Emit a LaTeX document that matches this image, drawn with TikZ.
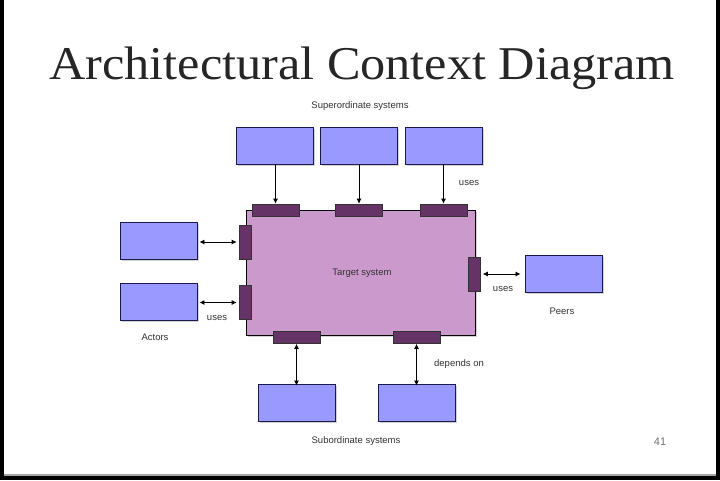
\documentclass[tikz,border=0pt]{standalone}
\usepackage{fontspec}
\setmainfont{Liberation Serif}
\setsansfont{Liberation Sans}
\usetikzlibrary{arrows.meta,shadows}
\definecolor{boxblue}{HTML}{9999FF}
\definecolor{boxedge}{HTML}{1A1A4D}
\definecolor{target}{HTML}{CC99CC}
\definecolor{port}{HTML}{663366}
\tikzset{
  sysbox/.style={draw=boxedge, line width=0.9pt, fill=boxblue, minimum width=77pt, minimum height=37pt, inner sep=0pt,
    drop shadow={shadow xshift=1.5pt, shadow yshift=-1.5pt, opacity=0.35}},
  tgt/.style={draw=black, line width=0.9pt, fill=target, minimum width=229pt, minimum height=125pt, inner sep=0pt,
    drop shadow={shadow xshift=2pt, shadow yshift=-2pt, opacity=0.35}},
  hport/.style={draw=black!80, line width=0.6pt, fill=port, minimum width=47pt, minimum height=12pt, inner sep=0pt},
  vport/.style={draw=black!80, line width=0.6pt, fill=port, minimum width=12pt, minimum height=34pt, inner sep=0pt},
  lbl/.style={font=\sffamily\fontsize{9.5}{11}\selectfont, inner sep=0pt, text=black!80},
  conn/.style={line width=0.8pt, -{Latex[length=5pt,width=5pt]}},
  dconn/.style={line width=0.8pt, {Latex[length=5pt,width=5pt]}-{Latex[length=5pt,width=5pt]}},
}
\begin{document}
\begin{tikzpicture}[x=1pt,y=-1pt]
\fill[black] (0,0) rectangle (720,480);
\fill[white] (4,0) rectangle (716,474);
\fill[black!35] (4,474) rectangle (716,476);
\useasboundingbox (0,0) rectangle (720,480);

\node[font=\fontsize{47}{50}\selectfont, text=black!85, xscale=1.07, anchor=base] (title) at (362,79) {Architectural Context Diagram};

\node[lbl] (sup) at (360,106) {Superordinate systems};
\node[sysbox] (s1) at (275,145.5) {};
\node[sysbox] (s2) at (359,145.5) {};
\node[sysbox] (s3) at (443.5,145.5) {};

\node[tgt] (t) at (360.5,272.5) {};
\node[lbl] (tl) at (362,273) {Target system};

\node[hport] (pt1) at (275.5,210) {};
\node[hport] (pt2) at (359,210) {};
\node[hport] (pt3) at (443.5,210) {};
\node[vport] (pl1) at (245,242) {};
\node[vport] (pl2) at (245,302.5) {};
\node[vport] (pr) at (474.5,274) {};
\node[hport] (pb1) at (296.5,337.5) {};
\node[hport] (pb2) at (416.5,337.5) {};

\draw[conn] (s1.south -| pt1) -- (pt1.north);
\draw[conn] (s2.south -| pt2) -- (pt2.north);
\draw[conn] (s3.south -| pt3) -- (pt3.north);
\node[lbl] (uses1) at (469,183) {uses};

\node[sysbox] (a1) at (158.5,241) {};
\node[sysbox] (a2) at (158.5,301.5) {};
\draw[dconn] ([xshift=2pt]a1.east |- pl1) -- ([xshift=-2pt]pl1.west);
\draw[dconn] ([xshift=2pt]a2.east |- pl2) -- ([xshift=-2pt]pl2.west);
\node[lbl] (uses2) at (217,318) {uses};
\node[lbl] (actors) at (155,337) {Actors};

\node[sysbox] (peer) at (563.5,273.5) {};
\draw[dconn] ([xshift=2pt]pr.east) -- ([xshift=-4pt]peer.west |- pr);
\node[lbl] (uses3) at (503,289) {uses};
\node[lbl] (peers) at (562,311) {Peers};

\node[sysbox] (b1) at (296.5,402.5) {};
\node[sysbox] (b2) at (416.5,402.5) {};
\draw[dconn] (pb1.south) -- ([yshift=-2pt]b1.north);
\draw[dconn] (pb2.south) -- ([yshift=-2pt]b2.north);
\node[lbl] (dep) at (459,364) {depends on};
\node[lbl] (sub) at (356,441) {Subordinate systems};

\node[font=\sffamily\fontsize{11}{12}\selectfont, text=black!55] (num) at (660,442) {41};
\end{tikzpicture}
\end{document}
